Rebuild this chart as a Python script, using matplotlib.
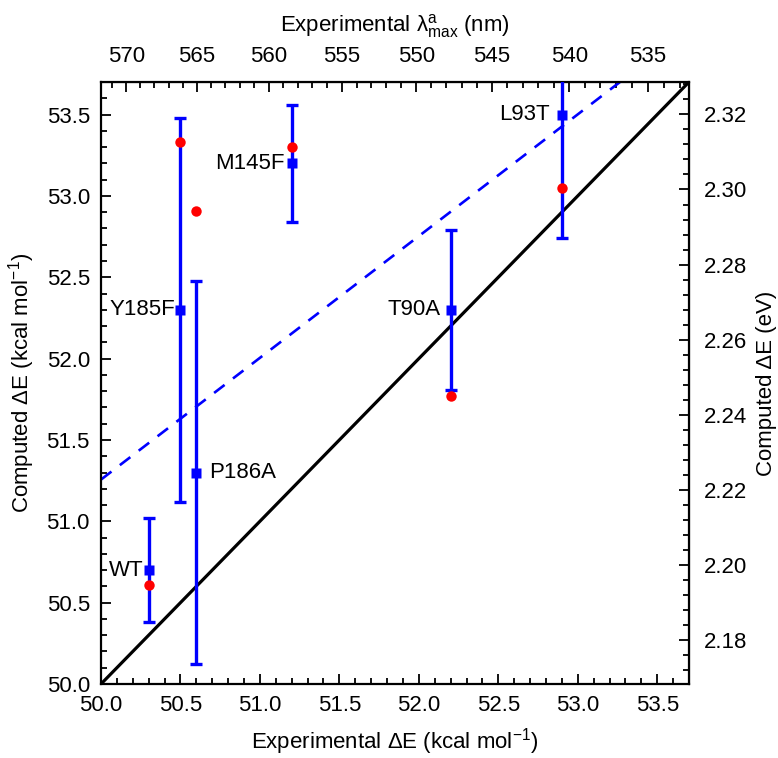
import numpy as np
import matplotlib
matplotlib.use('Agg')
import matplotlib.pyplot as plt
from matplotlib.ticker import MultipleLocator, FormatStrFormatter

plt.rcParams['font.family'] = ['Liberation Sans', 'DejaVu Sans']
plt.rcParams['mathtext.fontset'] = 'custom'
plt.rcParams['mathtext.rm'] = 'Liberation Sans'
plt.rcParams['mathtext.it'] = 'Liberation Sans'
plt.rcParams['mathtext.default'] = 'regular'

# Data (kcal/mol)
mutants = ['WT', 'Y185F', 'P186A', 'M145F', 'T90A', 'L93T']
exp_E = [50.3, 50.5, 50.6, 51.2, 52.2, 52.9]
comp_E = [50.7, 52.3, 51.3, 53.2, 52.3, 53.5]
comp_err = [0.32, 1.18, 1.18, 0.36, 0.49, 0.76]
alt_E = [50.61, 53.33, 52.91, 53.30, 51.77, 53.05]

# label offsets (points) and alignment
label_dx = [-4, -4, 9, -5, -7, -9]
label_ha = ['right', 'right', 'left', 'right', 'right', 'right']

KCAL_NM = 28591.0
KCAL_EV = 0.043364
FS = 16

fig = plt.figure(figsize=(7.78, 7.58), dpi=100)
ax = fig.add_axes([0.1298, 0.0976, 0.7558, 0.7942])

lims = [50.0, 53.7]
ax.plot(lims, lims, color='black', lw=2.3, zorder=2)

# linear fit of the computed values
slope, icpt = np.polyfit(exp_E, comp_E, 1)
xf = np.array(lims)
ax.plot(xf, slope * xf + icpt, color='#0000ff', lw=1.9,
        linestyle=(0, (5, 4)), zorder=2)

ax.errorbar(exp_E, comp_E, yerr=comp_err, fmt='none', ecolor='#0000ff',
            elinewidth=2.4, capsize=4, capthick=2.4, zorder=3)
ax.plot(exp_E, alt_E, 'o', color='#ff0000', ms=7.5, mec='none', zorder=4)
ax.plot(exp_E, comp_E, 's', color='#0000ff', ms=7, mec='none', zorder=5)

for name, x, y, dx, ha in zip(mutants, exp_E, comp_E, label_dx, label_ha):
    ax.annotate(name, (x, y), xytext=(dx, 0), textcoords='offset points',
                ha=ha, va='center', fontsize=FS)

ax.set_xlim(lims)
ax.set_ylim(lims)
ax.xaxis.set_major_locator(MultipleLocator(0.5))
ax.xaxis.set_minor_locator(MultipleLocator(0.1))
ax.yaxis.set_major_locator(MultipleLocator(0.5))
ax.yaxis.set_minor_locator(MultipleLocator(0.1))
ax.xaxis.set_major_formatter(FormatStrFormatter('%.1f'))
ax.yaxis.set_major_formatter(FormatStrFormatter('%.1f'))
ax.tick_params(which='both', direction='in', width=1.3, labelsize=FS)
ax.tick_params(which='major', length=7.5)
ax.tick_params(which='minor', length=4)
ax.tick_params(axis='x', pad=8)
ax.tick_params(axis='y', pad=8)
for s in ax.spines.values():
    s.set_linewidth(1.6)

ax.set_xlabel('Experimental ΔE (kcal mol$^{−1}$)', fontsize=FS, labelpad=7)
ax.set_ylabel('Computed ΔE (kcal mol$^{−1}$)', fontsize=FS, labelpad=7)

top = ax.secondary_xaxis('top', functions=(lambda e: KCAL_NM / e,
                                           lambda l: KCAL_NM / l))
top.xaxis.set_major_locator(MultipleLocator(5))
top.xaxis.set_minor_locator(MultipleLocator(1))
top.tick_params(which='both', direction='in', width=1.3, labelsize=FS, pad=11)
top.tick_params(which='major', length=7.5)
top.tick_params(which='minor', length=4)
top.set_xlabel('Experimental $λ^{a}_{max}$ (nm)', fontsize=FS, labelpad=10)

right = ax.secondary_yaxis('right', functions=(lambda e: e * KCAL_EV,
                                               lambda v: v / KCAL_EV))
right.yaxis.set_major_locator(MultipleLocator(0.02))
right.yaxis.set_minor_locator(MultipleLocator(0.004))
right.yaxis.set_major_formatter(FormatStrFormatter('%.2f'))
right.tick_params(which='both', direction='in', width=1.3, labelsize=FS, pad=11)
right.tick_params(which='major', length=7.5)
right.tick_params(which='minor', length=4)
right.set_ylabel('Computed ΔE (eV)', fontsize=FS, labelpad=6)

fig.savefig('out.png', dpi=100)
